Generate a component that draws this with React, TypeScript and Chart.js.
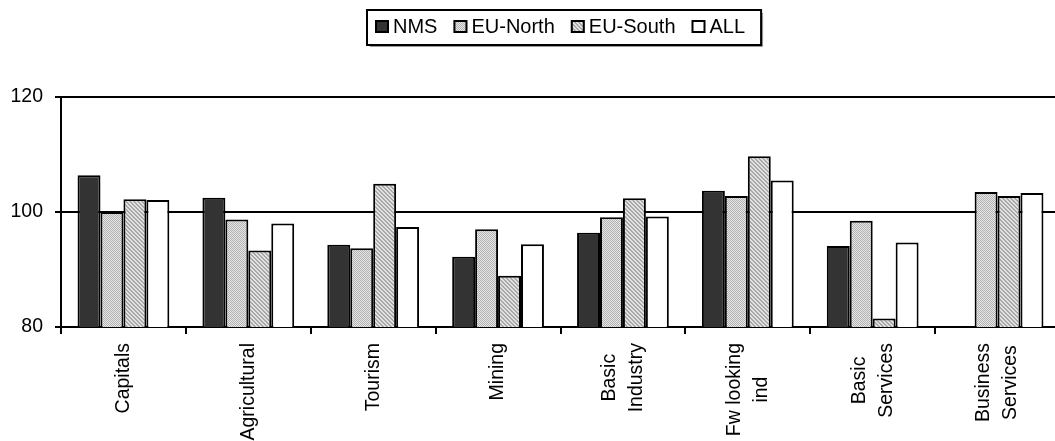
import React, { useEffect, useRef } from 'react';
import { Chart, registerables } from 'chart.js';

Chart.register(...registerables);

// ---- data ----
const categories: (string | string[])[] = [
  'Capitals',
  'Agricultural',
  'Tourism',
  'Mining',
  ['Basic', 'Industry'],
  ['Fw looking', 'ind'],
  ['Basic', 'Services'],
  ['Business', 'Services'],
];
const seriesNames = ['NMS', 'EU-North', 'EU-South', 'ALL'];
const nmsValues = [106.4, 102.5, 94.3, 92.2, 96.4, 103.7, 94.1, null];
const euNorthValues = [100.0, 98.7, 93.7, 97.0, 99.1, 102.8, 98.5, 103.5];
const euSouthValues = [102.2, 93.3, 104.9, 88.9, 102.4, 109.7, 81.5, 102.8];
const allValues = [102.1, 98.0, 97.4, 94.4, 99.2, 105.5, 94.7, 103.3];
const yTicks = [80, 100, 120];

// ---- styling ----
const FONT_FAMILY = '"Liberation Sans", Arial, Helvetica, sans-serif';
const FONT_SIZE = 19.5;
const LEGEND_FONT_SIZE = 20;
const LINE_GAP = 27;

function makePattern(kind: 'north' | 'south'): CanvasPattern | string {
  const c = document.createElement('canvas');
  c.width = 4;
  c.height = 4;
  const g = c.getContext('2d');
  if (!g) return '#c8c8c8';
  for (let y = 0; y < 4; y++) {
    for (let x = 0; x < 4; x++) {
      let dark: boolean;
      if (kind === 'north') dark = (x + y) % 2 === 0;
      else dark = ((x - y + 8) % 4) < 2;
      g.fillStyle = kind === 'north' ? (dark ? '#b2b2b2' : '#e6e6e6') : (dark ? '#a8a8a8' : '#e2e2e2');
      g.fillRect(x, y, 1, 1);
    }
  }
  const p = g.createPattern(c, 'repeat');
  return p || '#c8c8c8';
}

// Legend drawn from the chart's own datasets (name, fill, border)
const legendPlugin = {
  id: 'boxedLegend',
  afterDraw(chart: any) {
    const ctx = chart.ctx;
    const startX = 375;
    const box = 14;
    const boxTop = 20;
    const textGap = 4;
    const itemGap = 16;
    const textY = 27;
    ctx.save();
    ctx.font = `${LEGEND_FONT_SIZE}px ${FONT_FAMILY}`;
    ctx.textBaseline = 'middle';
    ctx.textAlign = 'left';
    let x = startX;
    chart.data.datasets.forEach((ds: any, i: number) => {
      ctx.fillStyle = ds.backgroundColor;
      ctx.fillRect(x, boxTop, box, box - 1);
      ctx.strokeStyle = '#000000';
      ctx.lineWidth = 2;
      ctx.strokeRect(x + 1, boxTop + 1, box - 2, box - 3);
      ctx.fillStyle = '#000000';
      ctx.fillText(ds.label, x + box + textGap, textY);
      const w = ctx.measureText(ds.label).width;
      x += box + textGap + w;
      if (i < chart.data.datasets.length - 1) x += itemGap;
    });
    const left = startX - 8;
    const right = x + 16;
    const top = 10;
    const bottom = 45;
    ctx.strokeStyle = '#9a9a9a';
    ctx.lineWidth = 1;
    ctx.beginPath();
    ctx.moveTo(right + 1.5, top + 3);
    ctx.lineTo(right + 1.5, bottom + 1.5);
    ctx.lineTo(left + 3, bottom + 1.5);
    ctx.stroke();
    ctx.strokeStyle = '#000000';
    ctx.lineWidth = 2;
    ctx.strokeRect(left, top, right - left, bottom - top);
    ctx.restore();
  },
};

const xLabelPlugin = {
  id: 'xLabels',
  afterDraw(chart: any) {
    const xs = chart.scales.x;
    const ctx = chart.ctx;
    ctx.save();
    ctx.font = `${FONT_SIZE}px ${FONT_FAMILY}`;
    ctx.fillStyle = '#000000';
    ctx.textAlign = 'center';
    ctx.textBaseline = 'middle';
    const topY = xs.top + 16;
    (chart.data.labels as (string | string[])[]).forEach((lab, i) => {
      const lines = Array.isArray(lab) ? lab : [lab];
      const maxW = Math.max(...lines.map((l) => ctx.measureText(l).width));
      const cx = xs.getPixelForValue(i);
      const cy = topY + maxW / 2;
      lines.forEach((line, j) => {
        ctx.save();
        ctx.translate(cx + (j - (lines.length - 1) / 2) * LINE_GAP, cy);
        ctx.rotate(-Math.PI / 2);
        ctx.fillText(line, 0, 0);
        ctx.restore();
      });
    });
    ctx.restore();
  },
};

export default function App() {
  const ref = useRef<HTMLCanvasElement>(null);
  useEffect(() => {
    const canvas = ref.current;
    if (!canvas) return;
    const fills = ['#333333', makePattern('north'), makePattern('south'), '#ffffff'];
    const seriesValues = [nmsValues, euNorthValues, euSouthValues, allValues];
    const font = { family: FONT_FAMILY, size: FONT_SIZE };
    const chart = new Chart(canvas, {
      type: 'bar',
      data: {
        labels: categories as any,
        datasets: seriesNames.map((name, i) => ({
          label: name,
          data: seriesValues[i] as any,
          backgroundColor: fills[i] as any,
          borderColor: '#000000',
          borderWidth: 2,
          categoryPercentage: 0.735,
          barPercentage: 1,
        })),
      },
      options: {
        responsive: false,
        animation: false,
        events: [],
        layout: { padding: { left: 11, right: 2, top: 97, bottom: 0 } },
        plugins: {
          legend: { display: false },
          tooltip: { enabled: false },
        },
        scales: {
          x: {
            grid: {
              display: true,
              drawOnChartArea: false,
              drawTicks: true,
              tickLength: 7,
              color: '#000000',
              lineWidth: 2,
              offset: true,
            },
            border: { display: true, color: '#000000', width: 2 },
            ticks: { display: false },
            afterFit: (s: any) => {
              s.height = 114;
            },
          },
          y: {
            min: 80,
            max: 120,
            afterBuildTicks: (s: any) => {
              s.ticks = yTicks.map((v) => ({ value: v }));
            },
            grid: { color: '#000000', lineWidth: 2, tickLength: 6, drawTicks: true },
            border: { display: true, color: '#000000', width: 2 },
            ticks: { color: '#000000', padding: 12, font },
            afterFit: (s: any) => {
              s.width = 50;
            },
          },
        },
      } as any,
      plugins: [legendPlugin, xLabelPlugin],
    });
    return () => chart.destroy();
  }, []);

  return (
    <div
      style={{
        position: 'fixed',
        left: 0,
        top: 0,
        width: 1055,
        height: 441,
        overflow: 'hidden',
        background: '#ffffff',
      }}
    >
      <canvas ref={ref} width={1062} height={441} style={{ display: 'block' }} />
    </div>
  );
}
